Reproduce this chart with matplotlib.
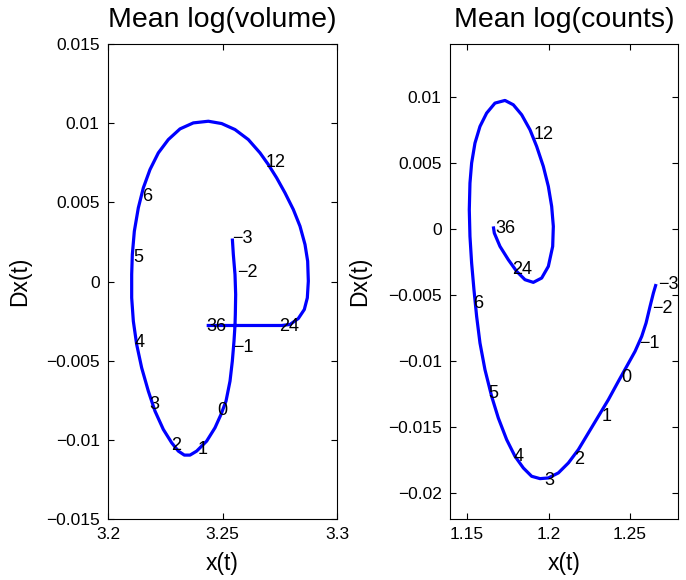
import numpy as np
import matplotlib
matplotlib.use('Agg')
import matplotlib.pyplot as plt
from matplotlib.ticker import FuncFormatter

plt.rcParams['font.family'] = ['Liberation Sans', 'DejaVu Sans']

# trajectory, ordered from t=-3 to t=36
vol_x = [3.25429, 3.25473, 3.25546, 3.25575, 3.25560, 3.25546, 3.25502, 3.25429, 3.25328, 3.25153,
         3.24934, 3.24672, 3.24309, 3.23872, 3.23581, 3.23333, 3.23071, 3.22780, 3.22416, 3.22052,
         3.21761, 3.21470, 3.21252, 3.21106, 3.21034, 3.21034, 3.21062, 3.21150, 3.21324, 3.21543,
         3.21834, 3.22198, 3.22634, 3.23144, 3.23726, 3.24381, 3.24964, 3.25546, 3.26128, 3.26638,
         3.27001, 3.27365, 3.27729, 3.28093, 3.28384, 3.28603, 3.28719, 3.28748, 3.28704, 3.28573,
         3.28311, 3.27948, 3.27584, 3.24309]
vol_y = [0.002715, 0.001705, 0.000442, -0.000821, -0.002083, -0.002757, -0.003767, -0.005030, -0.006292, -0.007555,
         -0.008396, -0.009238, -0.010080, -0.010711, -0.010964, -0.010964, -0.010711, -0.010185, -0.009343, -0.008186,
         -0.006923, -0.005450, -0.003977, -0.002504, -0.001031, 0.000442, 0.001705, 0.003177, 0.004651, 0.005913,
         0.007071, 0.008123, 0.008964, 0.009638, 0.010017, 0.010122, 0.009975, 0.009596, 0.008964, 0.008123,
         0.007386, 0.006545, 0.005598, 0.004545, 0.003493, 0.002336, 0.001283, 0.000021, -0.001031, -0.001768,
         -0.002336, -0.002715, -0.002778, -0.002778]

cnt_x = [1.26595, 1.26431, 1.26227, 1.25982, 1.25716, 1.25307, 1.24796, 1.24284, 1.23671, 1.23057,
         1.22444, 1.21830, 1.21217, 1.20603, 1.19990, 1.19479, 1.18967, 1.18456, 1.17945, 1.17434,
         1.16922, 1.16513, 1.16104, 1.15798, 1.15593, 1.15429, 1.15286, 1.15184, 1.15143, 1.15184,
         1.15286, 1.15491, 1.15798, 1.16207, 1.16718, 1.17331, 1.17842, 1.18354, 1.18865, 1.19274,
         1.19683, 1.19990, 1.20194, 1.20296, 1.20256, 1.19990, 1.19581, 1.19069, 1.18558, 1.18047,
         1.17536, 1.17025, 1.16677, 1.16615]
cnt_y = [-0.004192, -0.004874, -0.005884, -0.007146, -0.008157, -0.009293, -0.010430, -0.011566, -0.012955, -0.014218,
         -0.015480, -0.016743, -0.017753, -0.018510, -0.018889, -0.018940, -0.018763, -0.018132, -0.017248, -0.015985,
         -0.014344, -0.012702, -0.010682, -0.008662, -0.006642, -0.004621, -0.002601, -0.000581, 0.001439, 0.003460,
         0.004975, 0.006490, 0.007753, 0.008763, 0.009521, 0.009723, 0.009394, 0.008637, 0.007500, 0.006237,
         0.004722, 0.003207, 0.001692, 0.000177, -0.001339, -0.002854, -0.003737, -0.004066, -0.003864, -0.003232,
         -0.002349, -0.001339, -0.000328, 0.000177]

# time marks (months)
marks = ['-3', '-2', '-1', '0', '1', '2', '3', '4', '5', '6', '12', '24', '36']
vol_mx = [3.2543, 3.2565, 3.2545, 3.2477, 3.2390, 3.2274, 3.2180, 3.2118, 3.2110, 3.2147, 3.2690, 3.2748, 3.2428]
vol_my = [0.00270, 0.00055, -0.00419, -0.00814, -0.01061, -0.01033, -0.00776, -0.00383, 0.00150, 0.00539, 0.00749, -0.00282, -0.00282]
cnt_mx = [1.2674, 1.2633, 1.2557, 1.2449, 1.2326, 1.2158, 1.1974, 1.1784, 1.1631, 1.1539, 1.1907, 1.1778, 1.1672]
cnt_my = [-0.00424, -0.00601, -0.00871, -0.01131, -0.01422, -0.01750, -0.01909, -0.01725, -0.01250, -0.00568, 0.00717, -0.00311, 0.0]

vol_xticks = [3.2, 3.25, 3.3]
vol_yticks = [-0.015, -0.01, -0.005, 0, 0.005, 0.01, 0.015]
cnt_xticks = [1.15, 1.2, 1.25]
cnt_yticks = [-0.02, -0.015, -0.01, -0.005, 0, 0.005, 0.01]


def fmt(v, pos):
    s = '%g' % v
    return s.replace('-', '\u2212')


def panel(ax, x, y, mx, my, title, xlim, ylim, xticks, yticks, ylab_x):
    ax.plot(x, y, color=(0, 0, 1), lw=2.3, solid_capstyle='butt', solid_joinstyle='round')
    for m, px, py in zip(marks, mx, my):
        ax.text(px, py, m.replace('-', '\u2212'), ha='left', va='center', fontsize=13)
    ax.set_xlim(xlim)
    ax.set_ylim(ylim)
    ax.set_xticks(xticks)
    ax.set_yticks(yticks)
    ax.xaxis.set_major_formatter(FuncFormatter(fmt))
    ax.yaxis.set_major_formatter(FuncFormatter(fmt))
    ax.tick_params(direction='in', length=4, width=0.8, labelsize=12.5,
                   top=True, right=True, pad=6)
    for s in ax.spines.values():
        s.set_linewidth(0.8)
    ax.set_title(title, fontsize=20.5, pad=12.5)
    ax.set_xlabel('x(t)', fontsize=16.5)
    ax.set_ylabel('Dx(t)', fontsize=16.5)
    ax.xaxis.set_label_coords(0.5, -0.093)
    ax.xaxis.label.set_va('center')
    ax.yaxis.set_label_coords(ylab_x, 0.5)
    ax.yaxis.label.set_va('center')


fig = plt.figure(figsize=(6.86, 5.8), dpi=100)
ax1 = fig.add_axes([108 / 686, 61 / 580, 229 / 686, 475 / 580])
ax2 = fig.add_axes([450 / 686, 61 / 580, 228 / 686, 475 / 580])

panel(ax1, vol_x, vol_y, vol_mx, vol_my, 'Mean log(volume)',
      (3.2, 3.3), (-0.015, 0.015), vol_xticks, vol_yticks, -0.384)
panel(ax2, cnt_x, cnt_y, cnt_mx, cnt_my, 'Mean log(counts)',
      (1.1396, 1.2794), (-0.022, 0.014), cnt_xticks, cnt_yticks, -0.395)

fig.savefig('out.png', dpi=100)
